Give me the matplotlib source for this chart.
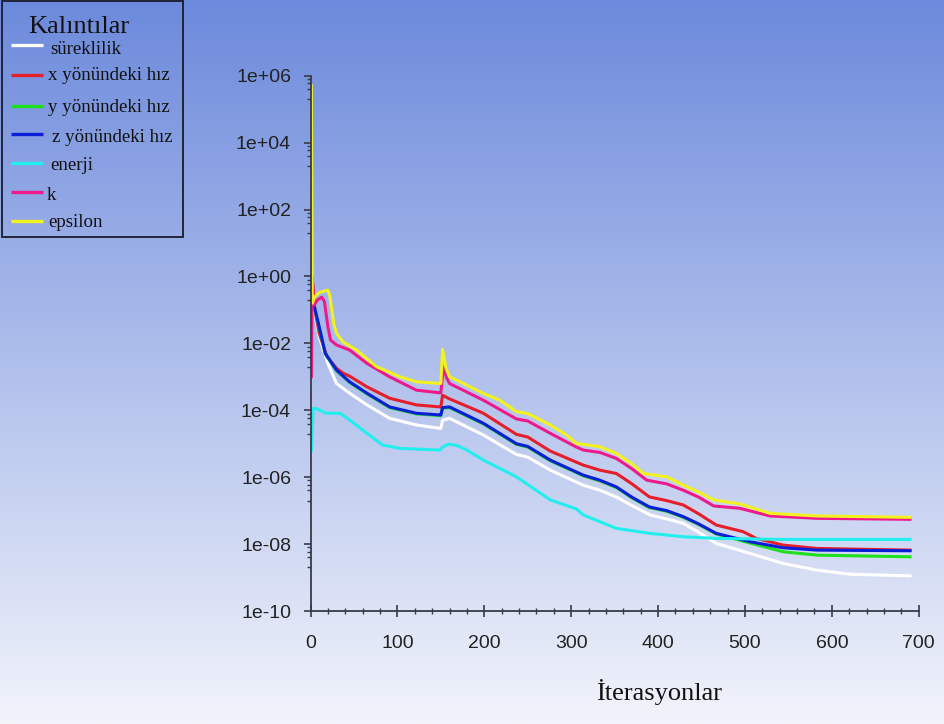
import numpy as np
import matplotlib.pyplot as plt
from matplotlib.patches import Rectangle
from matplotlib.ticker import NullFormatter

# residual histories, stored as log10 of the residual
iters_cont = [2, 5, 10, 20, 30, 45, 65, 91, 122, 149, 150, 152, 160, 199, 237, 250, 276, 314, 333, 352,
              370, 391, 410, 429, 447, 467, 506, 544, 583, 621, 690]
log_cont = [-0.8, -1.1, -1.8, -2.6, -3.2, -3.49, -3.84, -4.24, -4.44, -4.54, -4.54, -4.3, -4.24, -4.74, -5.32, -5.4,
            -5.79, -6.24, -6.39, -6.59, -6.85, -7.13, -7.25, -7.38, -7.65, -7.98, -8.28, -8.58, -8.78, -8.9, -8.95]

iters_xvel = [1, 2, 5, 10, 19, 30, 38, 45, 65, 91, 122, 149, 150, 152, 157, 160, 199, 237, 250, 276,
              314, 333, 352, 370, 390, 410, 429, 447, 467, 498, 513, 544, 583, 690]
log_xvel = [-0.1, 0.0, -1.0, -1.7, -2.4, -2.75, -2.9, -2.98, -3.3, -3.64, -3.84, -3.9, -3.9, -3.55, -3.62, -3.66,
            -4.09, -4.72, -4.8, -5.22, -5.64, -5.79, -5.89, -6.2, -6.59, -6.7, -6.83, -7.1, -7.43, -7.63, -7.83,
            -8.03, -8.13, -8.18]

iters_zvel = [1, 2, 4, 10, 17, 30, 45, 65, 91, 122, 149, 150, 152, 160, 199, 237, 250, 276, 314, 333,
              352, 370, 390, 410, 429, 447, 467, 506, 544, 583, 690]
log_zvel = [-0.3, -0.6, -0.86, -1.5, -2.3, -2.8, -3.15, -3.49, -3.9, -4.09, -4.14, -4.14, -3.92, -3.9, -4.39, -5.0,
            -5.08, -5.49, -5.94, -6.09, -6.29, -6.6, -6.89, -7.0, -7.18, -7.4, -7.68, -7.93, -8.11, -8.18, -8.2]

iters_yvel = iters_zvel
log_yvel = [-0.3, -0.6, -0.88, -1.52, -2.32, -2.82, -3.17, -3.51, -3.92, -4.11, -4.16, -4.16, -3.94, -3.92, -4.41,
            -5.02, -5.1, -5.51, -5.96, -6.11, -6.31, -6.62, -6.91, -7.02, -7.2, -7.42, -7.7, -7.97, -8.23, -8.33, -8.38]

iters_energy = [1, 3, 5, 11, 17, 22, 34, 45, 65, 83, 103, 149, 152, 159, 168, 180, 199, 237, 276, 306,
                314, 352, 391, 429, 467, 544, 690]
log_energy = [-5.2, -3.95, -3.94, -4.0, -4.08, -4.09, -4.09, -4.29, -4.69, -5.04, -5.14, -5.19, -5.1, -5.01, -5.05,
              -5.19, -5.49, -5.99, -6.68, -6.95, -7.13, -7.53, -7.68, -7.78, -7.83, -7.86, -7.86]

iters_k = [1, 2, 4, 8, 13, 16, 20, 23, 30, 45, 65, 91, 122, 149, 150, 153, 157, 160, 199, 237,
           250, 276, 306, 314, 333, 352, 370, 387, 410, 429, 447, 464, 494, 529, 583, 690]
log_k = [-3.0, -0.1, -0.86, -0.7, -0.62, -0.75, -1.5, -1.9, -2.05, -2.2, -2.6, -3.0, -3.4, -3.48, -3.48, -2.7,
         -3.05, -3.2, -3.7, -4.26, -4.32, -4.69, -5.1, -5.19, -5.26, -5.44, -5.75, -6.09, -6.2, -6.39, -6.6,
         -6.86, -6.93, -7.16, -7.23, -7.26]

iters_eps = [1, 2, 5, 10, 14, 20, 22, 27, 30, 37, 53, 76, 103, 122, 149, 150, 152, 156, 160, 176,
             199, 218, 237, 250, 276, 295, 306, 333, 352, 370, 383, 410, 429, 447, 464, 494, 529, 583, 690]
log_eps = [5.7, -0.8, -0.6, -0.48, -0.45, -0.41, -0.55, -1.45, -1.7, -1.95, -2.2, -2.7, -3.0, -3.15, -3.2, -3.2,
           -2.18, -2.75, -3.0, -3.2, -3.5, -3.7, -4.04, -4.1, -4.44, -4.75, -4.99, -5.09, -5.29, -5.6, -5.89,
           -5.99, -6.24, -6.45, -6.68, -6.80, -7.08, -7.16, -7.20]

names = ['süreklilik', 'x yönündeki hız', 'y yönündeki hız', 'z yönündeki hız', 'enerji', 'k', 'epsilon']
colors = ['#ffffff', '#e41e2b', '#1ee01e', '#0a1ed8', '#22eeee', '#ee1a8c', '#f2f21e']
series = [(iters_cont, log_cont), (iters_xvel, log_xvel), (iters_yvel, log_yvel), (iters_zvel, log_zvel),
          (iters_energy, log_energy), (iters_k, log_k), (iters_eps, log_eps)]

W, H = 944, 724
serif = ['Liberation Serif', 'DejaVu Serif']
sans = ['Liberation Sans', 'DejaVu Sans']

fig = plt.figure(figsize=(W / 100, H / 100), dpi=100)

# blue-to-white background
bg = fig.add_axes([0, 0, 1, 1], zorder=0)
c_top = np.array([108, 138, 220]) / 255
c_bot = np.array([242, 244, 251]) / 255
t = np.linspace(0, 1, 400)[:, None]
grad = c_top * (1 - t) + c_bot * t
bg.imshow(grad[:, None, :], aspect='auto', extent=[0, 1, 0, 1])
bg.axis('off')

# residual plot
x0, x1, ytop, ybot = 310.5, 918.7, 75.7, 611.0
ax = fig.add_axes([x0 / W, 1 - ybot / H, (x1 - x0) / W, (ybot - ytop) / H], zorder=2)
ax.set_facecolor('none')
for (it, lg), c in zip(series, colors):
    ax.plot(it, 10.0 ** np.array(lg), color=c, lw=2.2, solid_joinstyle='round')

ax.set_yscale('log')
ax.set_ylim(1e-10, 1e6)
ax.set_xlim(0, 700)
exps = list(range(-10, 7, 2))
ax.set_yticks([10.0 ** e for e in exps])
ax.set_yticklabels([f'1e{e:+03d}' for e in exps])
ax.set_yticks([m * 10.0 ** (e - 1) for e in range(-8, 7, 2) for m in (2, 4, 6, 8)], minor=True)
ax.yaxis.set_minor_formatter(NullFormatter())
ax.set_xticks(range(0, 701, 100))
ax.set_xticks(range(0, 701, 20), minor=True)

for s in ('top', 'right'):
    ax.spines[s].set_visible(False)
for s in ('left', 'bottom'):
    ax.spines[s].set_color('#3a3a48')
    ax.spines[s].set_linewidth(1.3)

ax.tick_params(axis='y', which='major', direction='out', length=5, width=1.2, color='#3a3a48',
               labelsize=14, labelcolor='#222222', pad=9)
ax.tick_params(axis='y', which='minor', direction='out', length=3, width=1.0, color='#3a3a48')
ax.tick_params(axis='x', which='major', direction='inout', length=9, width=1.2, color='#3a3a48',
               labelsize=14, labelcolor='#222222', pad=13)
ax.tick_params(axis='x', which='minor', direction='inout', length=4, width=1.0, color='#3a3a48')
for lab in ax.get_xticklabels() + ax.get_yticklabels():
    lab.set_fontfamily(sans)

fig.text(659 / W, 1 - 700 / H, 'İterasyonlar', fontfamily=serif, fontsize=19,
         ha='center', va='baseline', color='#111111')

# legend panel, laid out in pixel units
leg = fig.add_axes([0, 1 - 240 / H, 185 / W, 240 / H], zorder=3)
leg.set_xlim(0, 185)
leg.set_ylim(240, 0)
leg.axis('off')
leg.add_patch(Rectangle((2, 1), 181, 236, fill=False, ec='#1a1a2a', lw=1.3))
leg.text(28, 33, 'Kalıntılar', fontfamily=serif, fontsize=19, color='#111111', va='baseline')
line_y = [45, 75, 106, 134, 163, 192, 221]
text_y = [50, 76, 107, 137, 165, 195, 222]
text_x = [50, 48, 48, 52, 50, 47, 48]
for name, c, ly, ty, tx in zip(names, colors, line_y, text_y, text_x):
    leg.plot([11, 43], [ly, ly], color=c, lw=2.4, solid_capstyle='butt')
    leg.text(tx, ty, name, fontfamily=serif, fontsize=13.6, color='#111111', va='center')

fig.savefig('out.png', dpi=100)
